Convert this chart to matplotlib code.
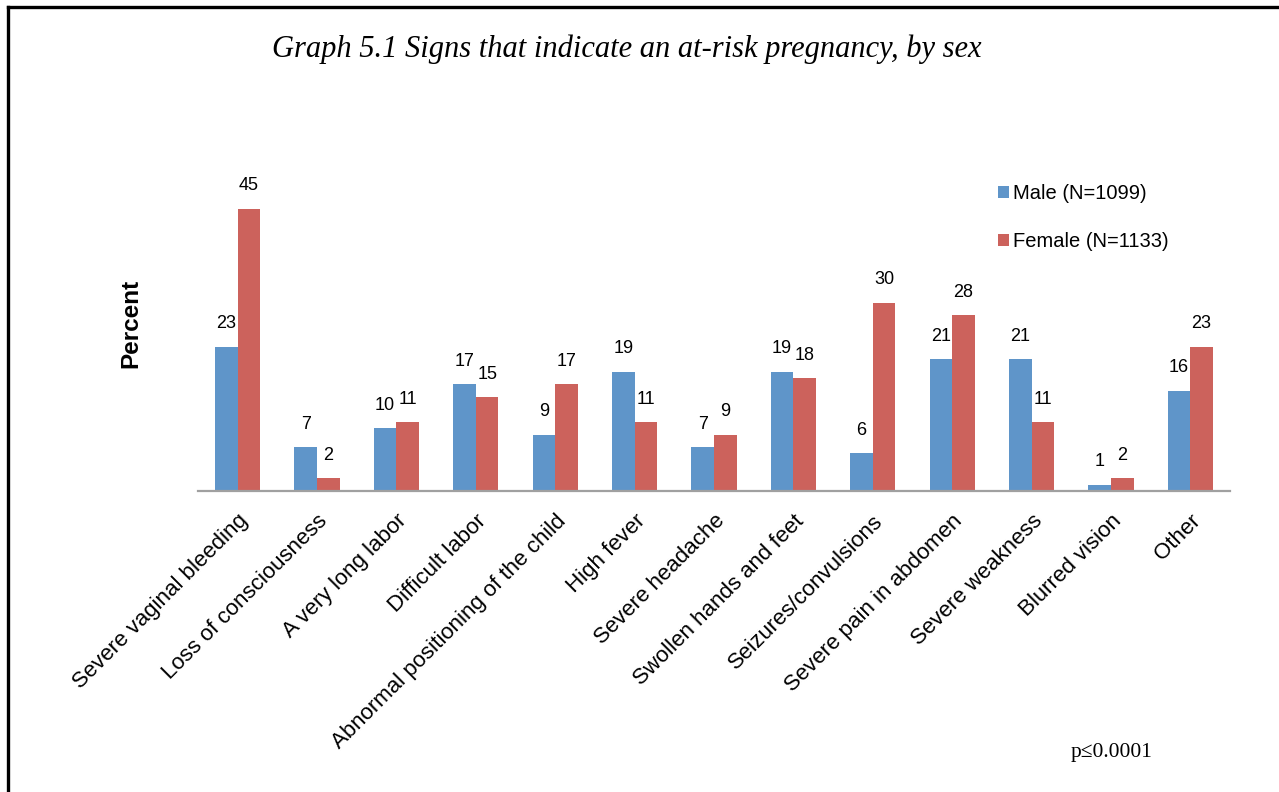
import numpy as np
import matplotlib
matplotlib.use('Agg')
import matplotlib.pyplot as plt
from matplotlib.lines import Line2D

categories = ['Severe vaginal bleeding', 'Loss of consciousness', 'A very long labor',
              'Difficult labor', 'Abnormal positioning of the child', 'High fever',
              'Severe headache', 'Swollen hands and feet', 'Seizures/convulsions',
              'Severe pain in abdomen', 'Severe weakness', 'Blurred vision', 'Other']
male = [23, 7, 10, 17, 9, 19, 7, 19, 6, 21, 21, 1, 16]
female = [45, 2, 11, 15, 17, 11, 9, 18, 30, 28, 11, 2, 23]
series_labels = ['Male (N=1099)', 'Female (N=1133)']

blue = '#5F95C9'
red = '#CC625C'

plt.rcParams['font.family'] = ['Liberation Sans', 'DejaVu Sans']

fig = plt.figure(figsize=(12.79, 7.92), dpi=100)
ax = fig.add_axes([198 / 1279, (792 - 491) / 792, 1032 / 1279, 313.5 / 792])

x = np.arange(len(categories))
w = 0.285
b1 = ax.bar(x - w / 2, male, w, color=blue, label=series_labels[0])
b2 = ax.bar(x + w / 2, female, w, color=red, label=series_labels[1])

for bars, vals in [(b1, male), (b2, female)]:
    for rect, v in zip(bars, vals):
        ax.annotate(str(v), (rect.get_x() + rect.get_width() / 2, rect.get_height()),
                    xytext=(0, 16.5), textcoords='offset points',
                    ha='center', va='center', fontsize=13)

ax.set_xlim(-0.5, len(categories) - 0.5)
ax.set_ylim(0, 50)
ax.set_xticks(x)
ax.set_xticklabels(categories, rotation=45, ha='right', rotation_mode='anchor',
                   fontsize=16)
ax.tick_params(axis='x', length=0, pad=14)
ax.set_yticks([])
for s in ['left', 'right', 'top']:
    ax.spines[s].set_visible(False)
ax.spines['bottom'].set_color('#A0A0A0')
ax.spines['bottom'].set_linewidth(1.6)

fig.legend(loc='upper left', bbox_to_anchor=(980 / 1279, 1 - 166 / 792),
           frameon=False, fontsize=14.5, handlelength=0.55, handleheight=0.55,
           handletextpad=0.2, labelspacing=1.45)

fig.text(627 / 1279, 1 - 49 / 792,
         'Graph 5.1 Signs that indicate an at-risk pregnancy, by sex',
         family='Liberation Serif', style='italic', fontsize=22,
         ha='center', va='center')
fig.text(131 / 1279, 1 - 323 / 792, 'Percent', rotation=90, fontsize=17.5,
         fontweight='bold', ha='center', va='center')
fig.text(1071 / 1279, 1 - 752 / 792, 'p≤0.0001', family='Liberation Serif',
         fontsize=15.5, ha='left', va='center')

# border (top and left edges of the frame)
fig.add_artist(Line2D([8 / 1279, 8 / 1279], [0, 1 - 6.5 / 792], color='black',
                      linewidth=2.4, transform=fig.transFigure))
fig.add_artist(Line2D([8 / 1279, 1], [1 - 6.5 / 792, 1 - 6.5 / 792], color='black',
                      linewidth=2.4, transform=fig.transFigure))

fig.savefig('out.png', dpi=100)
